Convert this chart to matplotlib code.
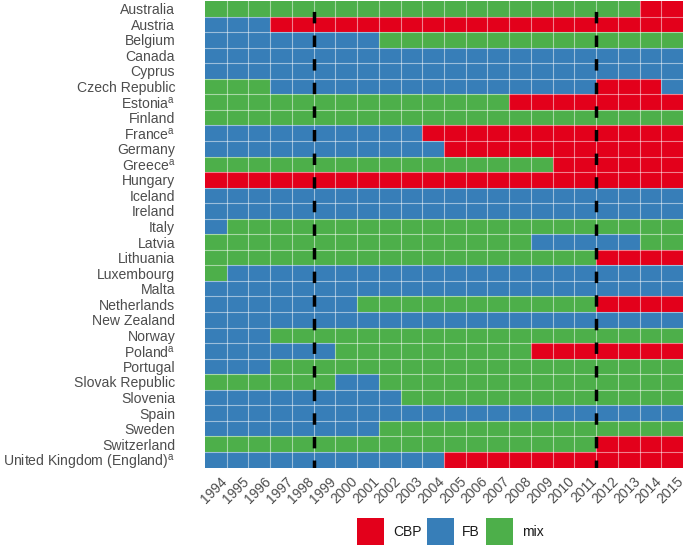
import matplotlib
matplotlib.use("Agg")
import matplotlib.pyplot as plt
from matplotlib.patches import Rectangle
import numpy as np

plt.rcParams['font.family'] = ['Liberation Sans', 'DejaVu Sans']
plt.rcParams['mathtext.fontset'] = 'custom'
plt.rcParams['mathtext.rm'] = 'Liberation Sans'
plt.rcParams['mathtext.it'] = 'Liberation Sans'

years = list(range(1994, 2016))

countries = [
    "Australia", "Austria", "Belgium", "Canada", "Cyprus", "Czech Republic",
    "Estonia$^{\\rm a}$", "Finland", "France$^{\\rm a}$", "Germany", "Greece$^{\\rm a}$",
    "Hungary", "Iceland", "Ireland", "Italy", "Latvia", "Lithuania", "Luxembourg",
    "Malta", "Netherlands", "New Zealand", "Norway", "Poland$^{\\rm a}$", "Portugal",
    "Slovak Republic", "Slovenia", "Spain", "Sweden", "Switzerland",
    "United Kingdom (England)$^{\\rm a}$",
]

# Each row: list of (category, number of consecutive years) starting at 1994
regimes = {
    "Australia": [("mix", 20), ("CBP", 2)],
    "Austria": [("FB", 3), ("CBP", 19)],
    "Belgium": [("FB", 8), ("mix", 14)],
    "Canada": [("FB", 22)],
    "Cyprus": [("FB", 22)],
    "Czech Republic": [("mix", 3), ("FB", 15), ("CBP", 3), ("FB", 1)],
    "Estonia": [("mix", 14), ("CBP", 8)],
    "Finland": [("mix", 22)],
    "France": [("FB", 10), ("CBP", 12)],
    "Germany": [("FB", 11), ("CBP", 11)],
    "Greece": [("mix", 16), ("CBP", 6)],
    "Hungary": [("CBP", 22)],
    "Iceland": [("FB", 22)],
    "Ireland": [("FB", 22)],
    "Italy": [("FB", 1), ("mix", 21)],
    "Latvia": [("mix", 15), ("FB", 5), ("mix", 2)],
    "Lithuania": [("mix", 18), ("CBP", 4)],
    "Luxembourg": [("mix", 1), ("FB", 21)],
    "Malta": [("FB", 22)],
    "Netherlands": [("FB", 7), ("mix", 11), ("CBP", 4)],
    "New Zealand": [("FB", 22)],
    "Norway": [("FB", 3), ("mix", 19)],
    "Poland": [("FB", 6), ("mix", 9), ("CBP", 7)],
    "Portugal": [("FB", 3), ("mix", 19)],
    "Slovak Republic": [("mix", 6), ("FB", 2), ("mix", 14)],
    "Slovenia": [("FB", 9), ("mix", 13)],
    "Spain": [("FB", 22)],
    "Sweden": [("FB", 8), ("mix", 14)],
    "Switzerland": [("mix", 18), ("CBP", 4)],
    "United Kingdom (England)": [("FB", 11), ("CBP", 11)],
}

categories = ["CBP", "FB", "mix"]
colors = {"CBP": "#E3001B", "FB": "#377EB8", "mix": "#4DAF4A"}
break_years = [1998, 2011]

W, H = 685, 547
fig = plt.figure(figsize=(W / 100, H / 100), dpi=100)
ax = fig.add_axes([205 / W, 1 - 467.5 / H, (683 - 205) / W, (467.5 - 1) / H])

keys = list(regimes.keys())
n = len(keys)
for r, key in enumerate(keys):
    cells = []
    for cat, cnt in regimes[key]:
        cells += [cat] * cnt
    y = n - 1 - r
    for i, cat in enumerate(cells):
        ax.add_patch(Rectangle((i, y), 1, 1, facecolor=colors[cat], edgecolor='none'))

# light grid lines between tiles
for i in range(1, len(years)):
    ax.axvline(i, color='white', lw=0.8, alpha=0.5, zorder=3)
for j in range(1, n):
    ax.axhline(j, color='white', lw=0.8, alpha=0.5, zorder=3)

for by in break_years:
    xi = years.index(by) + 1
    ax.plot([xi, xi], [n, 0], color='black', lw=2.5, linestyle=(3.8, (3.3, 3.5)),
            solid_capstyle='butt', dash_capstyle='butt', zorder=4)

ax.set_xlim(0, len(years))
ax.set_ylim(0, n)
# labels sit at the right edge of each year's tile (nudged slightly left for rotated text)
ax.set_xticks(np.arange(1, len(years) + 1) - 0.3)
ax.set_xticklabels([str(y) for y in years], rotation=45, ha='right', va='top',
                   rotation_mode='anchor', fontsize=10, color='#4D4D4D')
ax.set_yticks(np.arange(n) + 0.5)
ax.set_yticklabels(countries[::-1], fontsize=10.1, color='#4D4D4D')
ax.tick_params(length=0, axis='both')
ax.tick_params(axis='x', pad=5)
ax.tick_params(axis='y', pad=21.5)
for s in ax.spines.values():
    s.set_visible(False)

# legend drawn in figure pixel coordinates
key_x = [357, 427, 486]
text_x = [393, 462, 522]
for c, kx, tx in zip(categories, key_x, text_x):
    fig.add_artist(Rectangle((kx / W, 1 - 545 / H), 27 / W, 27 / H,
                             transform=fig.transFigure, facecolor=colors[c],
                             edgecolor='none'))
    fig.text(tx / W, 1 - 531.5 / H, c, ha='left', va='center', fontsize=10,
             color='#1A1A1A')

fig.savefig("out.png", dpi=100)
